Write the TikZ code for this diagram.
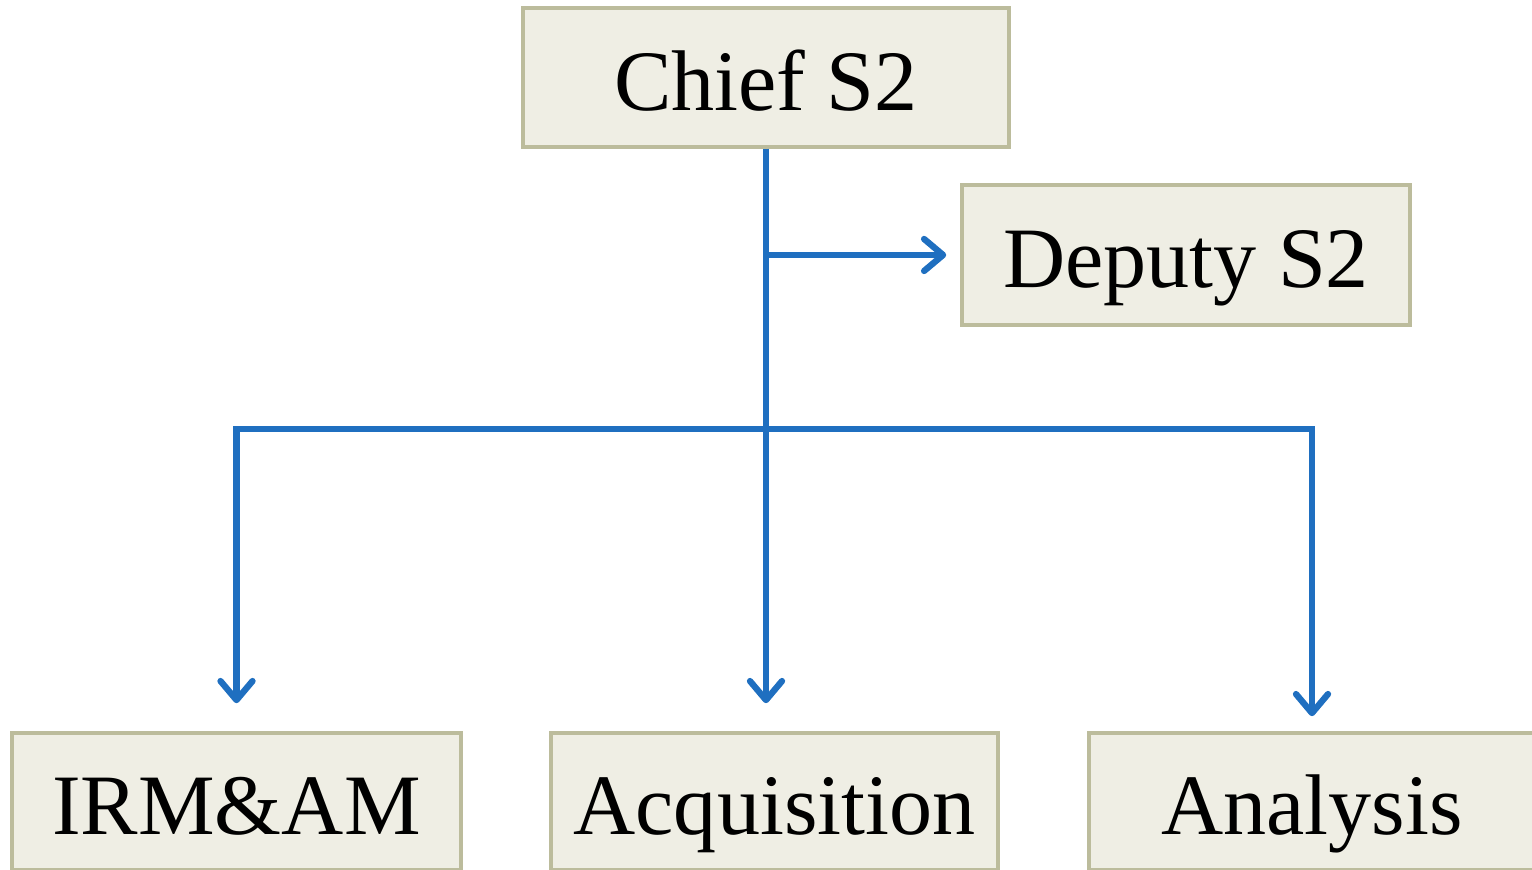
\documentclass[tikz,border=0pt]{standalone}
\usepackage{fontspec}
\setmainfont{Liberation Serif}
\usepackage{tikz}
\usetikzlibrary{positioning,arrows.meta,calc}
\definecolor{boxfill}{HTML}{EFEEE4}
\definecolor{boxline}{HTML}{BCBC9C}
\definecolor{linkblue}{HTML}{1F6FC0}
\tikzset{>={Straight Barb[length=1.9mm,width=3.2mm,line width=1.8pt,round]}}
\tikzset{unit/.style={draw=boxline, fill=boxfill, line width=1pt, inner sep=0pt,
    minimum height=1.37cm, text height=0.76cm, text depth=0.1cm,
    font=\fontsize{24.5}{29}\selectfont}}

\begin{document}
\begin{tikzpicture}[link/.style={draw=linkblue, line width=1.8pt}]
      \useasboundingbox (0,0) rectangle (15.32,8.70);
      \node[unit, minimum width=4.86cm, minimum height=1.39cm] (chief) at (7.66,7.925) {Chief S2};
      \node[unit, minimum width=4.48cm, minimum height=1.40cm] (dep) at (11.86,6.15) {Deputy S2};
      \node[unit, minimum width=4.49cm] (irm) at (2.365,0.685) {IRM\&AM};
      \node[unit, minimum width=4.47cm] (acq) at (7.745,0.685) {Acquisition};
      \node[unit, minimum width=4.46cm] (ana) at (13.12,0.685) {Analysis};
      \coordinate (hub) at ($(chief.south)+(0,-2.80)$); %junction
      \draw[link] (chief.south) -- (hub);
      \draw[link, ->, shorten >=1.4mm] (chief.south |- dep.west) -- (dep.west);
      \draw[link, ->, shorten >=2.8mm] (hub) -| (irm.north);
      \draw[link, ->, shorten >=2.8mm] (hub) -- (hub |- acq.north);
      \draw[link, ->, shorten >=1.5mm] (hub) -| (ana.north);
    \end{tikzpicture}
\end{document}
